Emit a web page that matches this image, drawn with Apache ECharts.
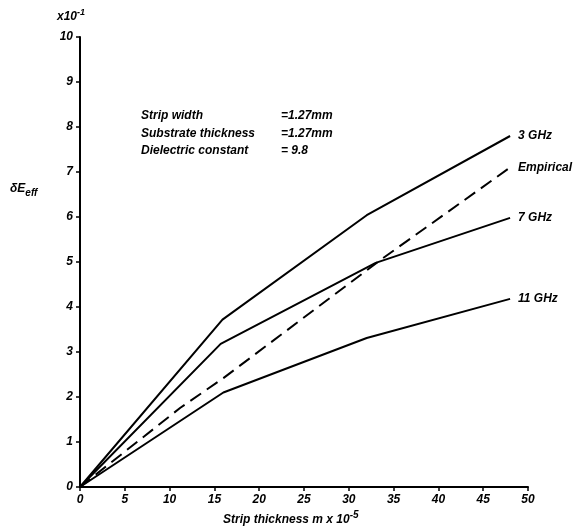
<!DOCTYPE html>
<html><head><meta charset="utf-8">
<script src="https://cdn.jsdelivr.net/npm/echarts@6/dist/echarts.min.js"></script>
<style>html,body{margin:0;padding:0;background:#fff}#c{width:585px;height:532px}</style>
</head><body><div id="c"></div>
<script>
const xTicks = [0,5,10,15,20,25,30,35,40,45,50];
const yTicks = [0,1,2,3,4,5,6,7,8,9,10];
const seriesNames = ['3 GHz','Empirical','7 GHz','11 GHz'];
const ghz3 = [[0,0],[15.9,3.72],[32,6.04],[48,7.8]];
const empirical = [[0,0],[11.2,1.76],[16,2.42],[33.5,5.04],[48,7.1]];
const ghz7 = [[0,0],[15.7,3.18],[33,4.98],[48,5.98]];
const ghz11 = [[0,0],[16,2.1],[32,3.31],[48,4.18]];
const notes = [['Strip width','=1.27mm'],['Substrate thickness','=1.27mm'],['Dielectric constant','= 9.8']];

const FONT = 'Liberation Sans';
const chart = echarts.init(document.getElementById('c'), null, {renderer:'canvas'});
const txt = {fontFamily:FONT, fontStyle:'italic', fontWeight:'bold', color:'#000'};
function mk(name, data, dashed){
  return {
    name, type:'line', data, symbol:'none', smooth:false,
    lineStyle:{color:'#000', width:2, type: dashed ? [13,7] : 'solid'},
    endLabel:{show:true, formatter:'{a}', distance:8, ...txt, fontSize:12},
    z: 3
  };
}
const graphics = [];
notes.forEach((n,i)=>{
  graphics.push({type:'text', left:141, top:110+i*17.5, style:{text:n[0], font:`italic bold 12px "${FONT}"`, fill:'#000'}});
  graphics.push({type:'text', left:281, top:110+i*17.5, style:{text:n[1], font:`italic bold 12px "${FONT}"`, fill:'#000'}});
});
graphics.push({type:'text', left:57, top:8, style:{text:'{a|x10}{b|-1}', rich:{a:{...txt, fontSize:12}, b:{...txt, fontSize:9, padding:[0,0,8,0]}}}});
graphics.push({type:'text', left:10, top:183, style:{text:'{a|\u03b4E}{b|eff}', rich:{a:{...txt, fontSize:12}, b:{...txt, fontSize:10, padding:[8,0,0,0]}}}});
graphics.push({type:'text', left:223, top:510, style:{text:'{a|Strip thickness m x 10}{b|-5}', rich:{a:{...txt, fontSize:12}, b:{...txt, fontSize:10, padding:[0,0,10,0]}}}});

chart.setOption({
  animation:false,
  backgroundColor:'#fff',
  grid:{left:80, right:57, top:37, bottom:45},
  xAxis:{type:'value', min:0, max:50, interval:5,
    axisLine:{show:true, lineStyle:{color:'#000', width:2}},
    axisTick:{show:true, length:4, lineStyle:{color:'#000', width:1.5}},
    axisLabel:{...txt, fontSize:12, margin:7, formatter:v=>xTicks.includes(v)?String(v):''},
    splitLine:{show:false}},
  yAxis:{type:'value', min:0, max:10, interval:1,
    axisLine:{show:true, lineStyle:{color:'#000', width:2}},
    axisTick:{show:true, length:4, lineStyle:{color:'#000', width:1.5}},
    axisLabel:{...txt, fontSize:12, margin:7, formatter:v=>yTicks.includes(v)?String(v):''},
    splitLine:{show:false}},
  series:[mk(seriesNames[0], ghz3), mk(seriesNames[1], empirical, true), mk(seriesNames[2], ghz7), mk(seriesNames[3], ghz11)],
  graphic: graphics
});
</script></body></html>
